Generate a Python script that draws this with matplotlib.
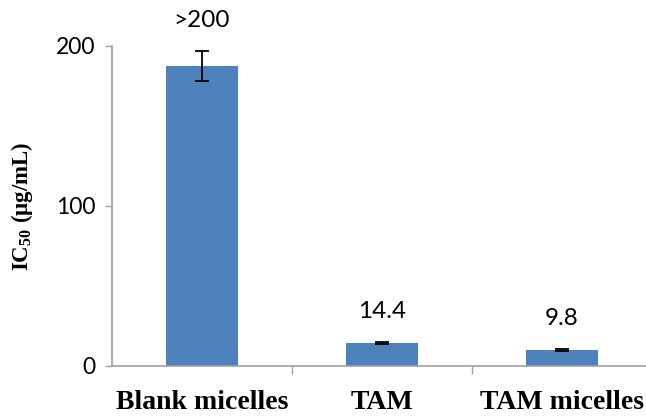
import numpy as np
import matplotlib.pyplot as plt

plt.rcParams["mathtext.fontset"] = "custom"
plt.rcParams["mathtext.rm"] = "Liberation Serif"
plt.rcParams["mathtext.bf"] = "Liberation Serif:bold"

# Data
categories = ["Blank micelles", "TAM", "TAM micelles"]
ic50 = [187.5, 14.4, 9.8]
ic50_err = [9.5, 0.9, 0.7]
value_labels = [">200", "14.4", "9.8"]

fig = plt.figure(figsize=(6.46, 4.17), dpi=100)
W, H = 646, 417
ax = fig.add_axes([112 / W, 51 / H, 540 / W, 320 / H])

x = np.arange(len(categories))
ax.bar(x, ic50, width=0.4, color="#4f81bd", zorder=2)
ax.errorbar(x, ic50, yerr=ic50_err, fmt="none", ecolor="black", elinewidth=1.3,
            capsize=5, capthick=1.3, zorder=3)

for xi, yi, ei, lab in zip(x, ic50, ic50_err, value_labels):
    ax.text(xi, yi + ei + 19, lab, ha="center", va="center", fontsize=17.5,
            family="Lato", clip_on=False)

ax.set_xlim(-0.5, 2.5)
ax.set_ylim(0, 200)
ax.set_yticks([0, 100, 200])
ax.set_xticks(x)
ax.set_xticklabels(categories, fontsize=20, family="Liberation Serif", fontweight="bold")
ax.set_xticks([0.5, 1.5, 2.5], minor=True)
ax.tick_params(axis="x", which="major", length=0, pad=17)
ax.tick_params(axis="x", which="minor", length=6, color="#a0a0a0", width=1)
ax.tick_params(axis="y", length=5, color="#a0a0a0", width=1, labelsize=16.5, pad=7)
for lab in ax.get_yticklabels():
    lab.set_family("Lato")

for s in ["top", "right"]:
    ax.spines[s].set_visible(False)
for s in ["left", "bottom"]:
    ax.spines[s].set_color("#a0a0a0")
    ax.spines[s].set_linewidth(1.2)

ax.set_ylabel(r"IC$_{\mathbf{50}}$ (µg/mL)", fontsize=16.5, family="Liberation Serif",
              fontweight="bold")
ax.yaxis.set_label_coords(-0.142, 0.5)

fig.savefig("out.png", dpi=100)
